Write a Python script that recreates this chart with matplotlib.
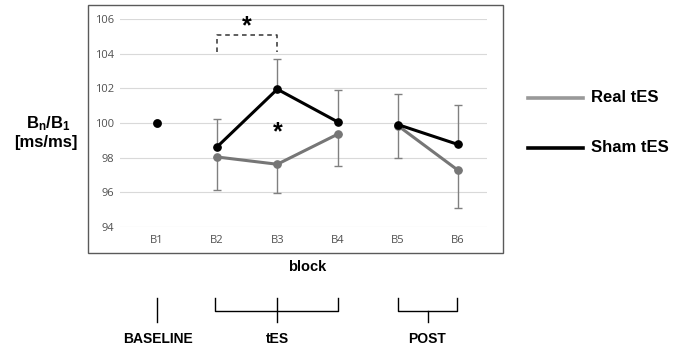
import matplotlib
matplotlib.use("Agg")
import matplotlib.pyplot as plt
import numpy as np
from matplotlib.lines import Line2D
from matplotlib.patches import Rectangle
from matplotlib.transforms import blended_transform_factory

blocks = ["B1", "B2", "B3", "B4", "B5", "B6"]
phases = ["BASELINE", "tES", "tES", "tES", "POST", "POST"]
sham = [100.0, 98.62, 101.95, 100.07, 99.91, 98.76]
sham_err_up = [0.0, 1.60, 1.74, 1.86, 1.79, 2.27]
real = [100.0, 98.04, 97.62, 99.35, 99.85, 97.27]
real_err_down = [0.0, 1.89, 1.66, 1.81, 1.85, 2.16]
yticks = [94, 96, 98, 100, 102, 104, 106]
series_labels = ["Real tES", "Sham tES"]

W, H = 685, 350
plt.rcParams["mathtext.fontset"] = "custom"
plt.rcParams["mathtext.rm"] = "Liberation Sans:bold"
plt.rcParams["mathtext.it"] = "Liberation Sans:bold"
plt.rcParams["mathtext.bf"] = "Liberation Sans:bold"

fig = plt.figure(figsize=(W / 100, H / 100), dpi=100)

def fx(x):
    return x / W

def fy(y):
    return 1 - y / H

ax = fig.add_axes([fx(120), fy(227), fx(487) - fx(120), fy(19) - fy(227)])
x = np.arange(len(blocks))
ax.set_xlim(-0.61, 5.48)
ax.set_ylim(94, 106)

gray_line = "#767676"
err_col = "#808080"

# error bars
ax.errorbar(x[1:], sham[1:], yerr=[np.zeros(5), sham_err_up[1:]], fmt="none",
            ecolor=err_col, elinewidth=1, capsize=2.6, capthick=1, zorder=2)
ax.errorbar(x[1:], real[1:], yerr=[real_err_down[1:], np.zeros(5)], fmt="none",
            ecolor=err_col, elinewidth=1, capsize=2.6, capthick=1, zorder=2)

# series by phase segments
for ph in ["BASELINE", "tES", "POST"]:
    idx = [i for i, p in enumerate(phases) if p == ph]
    ax.plot(x[idx], [real[i] for i in idx], color=gray_line, lw=2.2,
            marker="o", ms=5.2, zorder=3)
for ph in ["BASELINE", "tES", "POST"]:
    idx = [i for i, p in enumerate(phases) if p == ph]
    ax.plot(x[idx], [sham[i] for i in idx], color="black", lw=2.2,
            marker="o", ms=5.2, zorder=4)

ax.set_yticks(yticks)
ax.set_xticks(x)
ax.set_xticklabels(blocks)
ax.tick_params(axis="both", length=0, labelsize=8, colors="#505050")
ax.tick_params(axis="x", pad=6)
ax.tick_params(axis="y", pad=4)
for lab in ax.get_xticklabels() + ax.get_yticklabels():
    lab.set_fontfamily("Open Sans")
ax.grid(axis="y", color="#d9d9d9", lw=0.8)
ax.set_axisbelow(True)
for s in ax.spines.values():
    s.set_visible(False)

# significance bracket
ax.plot([1, 1, 2, 2], [104.1, 105.05, 105.05, 104.1], color="#333333",
        lw=1.1, ls=(0, (3, 2.5)), zorder=3)
ax.text(1.5, 105.55, "*", ha="center", va="center", fontsize=18,
        fontweight="bold", fontfamily="Liberation Sans")
ax.text(2.0, 99.45, "*", ha="center", va="center", fontsize=18,
        fontweight="bold", fontfamily="Liberation Sans")

# outer frame
fig.add_artist(Rectangle((fx(88), fy(253)), fx(503) - fx(88), fy(5) - fy(253),
                         transform=fig.transFigure, fill=False,
                         edgecolor="#5a5a5a", lw=1.0))

# y label
fig.text(fx(48), fy(124), r"B$_{n}$/B$_{1}$", ha="center", va="center",
         fontsize=12, fontweight="bold", fontfamily="Liberation Sans")
fig.text(fx(46), fy(143), "[ms/ms]", ha="center", va="center",
         fontsize=12, fontweight="bold", fontfamily="Liberation Sans")

# legend
for lbl, col, yy in [(series_labels[0], "#999999", 98), (series_labels[1], "black", 148)]:
    fig.add_artist(Line2D([fx(528), fx(583)], [fy(yy), fy(yy)], color=col,
                          lw=2.6, transform=fig.transFigure))
    fig.text(fx(591), fy(yy), lbl, ha="left", va="center", fontsize=12,
             fontweight="bold", fontfamily="Liberation Sans")

# x label and phase brackets
tr = blended_transform_factory(ax.transData, fig.transFigure)
ax.text(2.5, fy(267), "block", transform=tr, ha="center", va="center",
        fontsize=10.5, fontweight="bold", fontfamily="Liberation Sans")

def seg(xs, ys):
    ax.add_line(Line2D(xs, [fy(v) for v in ys], transform=tr, color="black",
                       lw=1.0, clip_on=False))

seg([0, 0], [298, 322])
seg([0.96, 0.96, 3.0, 3.0], [298, 311, 311, 298])
seg([2, 2], [298, 322])
seg([4.0, 4.0, 4.98, 4.98], [298, 311, 311, 298])
seg([4.5, 4.5], [311, 322])

phase_names = ["BASELINE", "tES", "POST"]
phase_x = [0.02, 2.0, 4.48]
for nm, px in zip(phase_names, phase_x):
    ax.text(px, fy(339), nm, transform=tr, ha="center", va="center",
            fontsize=10, fontweight="bold", fontfamily="Liberation Sans")

fig.savefig("out.png", dpi=100)
